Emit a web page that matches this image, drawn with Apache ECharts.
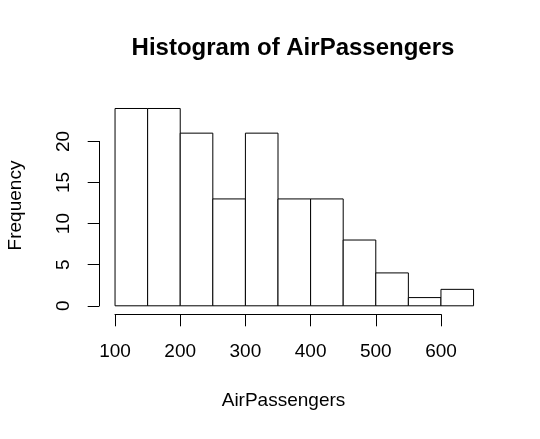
<!DOCTYPE html>
<html>
<head>
<meta charset="utf-8">
<script src="https://cdn.jsdelivr.net/npm/echarts@6/dist/echarts.min.js"></script>
<style>html,body{margin:0;padding:0;background:#fff}#c{width:540px;height:439px}</style>
</head>
<body>
<div id="c"></div>
<script>
const binStarts = [100, 150, 200, 250, 300, 350, 400, 450, 500, 550, 600];
const binEnds   = [150, 200, 250, 300, 350, 400, 450, 500, 550, 600, 650];
const counts    = [24, 24, 21, 13, 21, 13, 13, 8, 4, 1, 2];
const xTicks = [100, 200, 300, 400, 500, 600];
const yTicks = [0, 5, 10, 15, 20];

const font = 'Liberation Sans, Arial, sans-serif';
const data = binStarts.map((s, i) => [s, binEnds[i], counts[i]]);

const chart = echarts.init(document.getElementById('c'), null, {renderer: 'canvas'});
chart.setOption({
  backgroundColor: '#fff',
  animation: false,
  graphic: [
    {type: 'text', x: 293, y: 36, style: {text: 'Histogram of AirPassengers', font: 'bold 24px ' + font, fill: '#000', align: 'center', verticalAlign: 'top'}},
    {type: 'text', x: 283.5, y: 391, style: {text: 'AirPassengers', font: '19px ' + font, fill: '#000', align: 'center', verticalAlign: 'top'}},
    {type: 'text', x: 6, y: 205.5, rotation: Math.PI / 2, style: {text: 'Frequency', font: '19px ' + font, fill: '#000', align: 'center', verticalAlign: 'top'}}
  ],
  grid: [
    {left: 100.7, right: 52.1, top: 100.6, bottom: 133.2},
    {left: 115, width: 326, top: 300, height: 14.3},
    {left: 99.3, width: 5, top: 141.4, height: 164.4}
  ],
  xAxis: [
    {gridIndex: 0, type: 'value', min: 78, max: 672, show: false},
    {gridIndex: 1, type: 'value', min: 100, max: 600, interval: 100,
      axisLine: {show: true, onZero: false, lineStyle: {color: '#000', width: 1}},
      axisTick: {show: true, length: 12, lineStyle: {color: '#000'}},
      axisLabel: {margin: 28, fontSize: 19, fontFamily: font, color: '#000',
        showMinLabel: true, showMaxLabel: true},
      splitLine: {show: false}},
    {gridIndex: 2, type: 'value', min: 0, max: 1, show: false}
  ],
  yAxis: [
    {gridIndex: 0, type: 'value', min: 0, max: 24.96, show: false},
    {gridIndex: 1, type: 'value', min: 0, max: 1, show: false},
    {gridIndex: 2, type: 'value', min: 0, max: 20, interval: 5,
      axisLine: {show: true, onZero: false, lineStyle: {color: '#000', width: 1}},
      axisTick: {show: true, length: 11.6, lineStyle: {color: '#000'}},
      axisLabel: {margin: 26, rotate: 90, fontSize: 19, fontFamily: font, color: '#000',
        showMinLabel: true, showMaxLabel: true},
      splitLine: {show: false}}
  ],
  series: [{
    type: 'custom',
    xAxisIndex: 0, yAxisIndex: 0,
    data: data,
    renderItem: function (params, api) {
      const p0 = api.coord([api.value(0), 0]);
      const p1 = api.coord([api.value(1), api.value(2)]);
      return {
        type: 'rect',
        shape: {x: p0[0], y: p1[1], width: p1[0] - p0[0], height: p0[1] - p1[1]},
        style: {fill: '#fff', stroke: '#000', lineWidth: 1}
      };
    }
  }]
});
</script>
</body>
</html>
